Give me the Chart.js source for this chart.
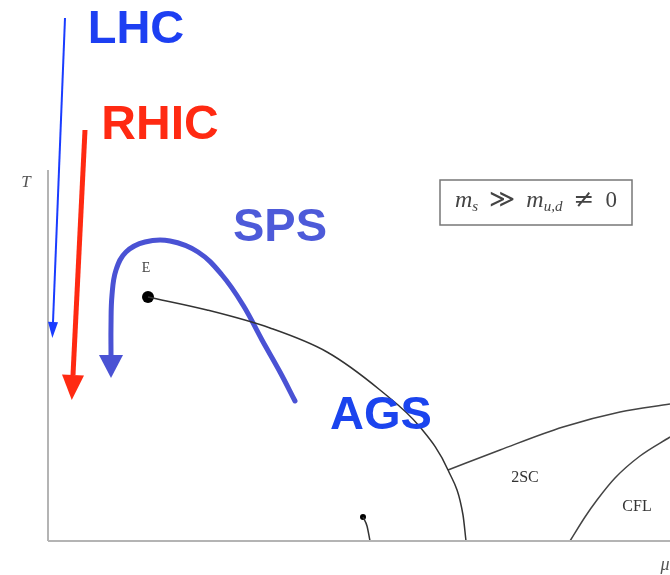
<!DOCTYPE html>
<html><head><meta charset="utf-8">
<script src="https://cdn.jsdelivr.net/npm/chart.js@4.4.1/dist/chart.umd.min.js"></script>
<style>html,body{margin:0;padding:0;background:#fff;}canvas{display:block;}</style>
</head><body>
<canvas id="c" width="670" height="575"></canvas>
<script>
// Data units: x = baryon chemical potential (arb.), y = temperature T (arb.), origin at axis corner
const axisT = [{x:0,y:371},{x:0,y:0}];
const axisMu = [{x:0,y:0},{x:622,y:0}];
const lhcPath = [{x:17,y:523},{x:5,y:219}];
const rhicPath = [{x:37,y:411},{x:25,y:166}];
const spsPath = [{x:247,y:140},{x:232,y:169},{x:214,y:201},{x:195,y:236},{x:174,y:266},{x:150,y:289},{x:122,y:300},{x:97,y:299},{x:78,y:289},{x:68,y:271},{x:64,y:246},{x:63,y:216},{x:63,y:186}];
const firstOrder = [{x:100,y:244},{x:159,y:231},{x:222,y:213},{x:279,y:189},{x:332,y:151},{x:372,y:114},{x:400,y:71},{x:415,y:26},{x:418,y:0}];
const line2SC = [{x:400,y:71},{x:452,y:91},{x:515,y:114},{x:572,y:129},{x:622,y:137}];
const lineCFL = [{x:522,y:0},{x:537,y:24},{x:549,y:41},{x:567,y:63},{x:592,y:85},{x:622,y:104}];
const liquidGas = [{x:315,y:24},{x:319,y:15},{x:322,y:0}];
const endpointE = [{x:100,y:244}];
const endpointLG = [{x:315,y:24}];
const labels = [
  {text:'LHC', x:88, y:511, font:'bold 47px "Liberation Sans", Arial, sans-serif', color:'#1d3ff2'},
  {text:'RHIC', x:112, y:415, font:'bold 48px "Liberation Sans", Arial, sans-serif', color:'#ff2a12'},
  {text:'SPS', x:232, y:313, font:'bold 47px "Liberation Sans", Arial, sans-serif', color:'#4d5ad9'},
  {text:'AGS', x:333, y:125, font:'bold 47px "Liberation Sans", Arial, sans-serif', color:'#1b44ee'},
  {text:'T', x:-22, y:358, font:'italic 17px "Liberation Serif", "DejaVu Serif", serif', color:'#555'},
  {text:'μ', x:617, y:-24, font:'italic 18px "Liberation Serif", "DejaVu Serif", serif', color:'#555'},
  {text:'E', x:98, y:273, font:'14px "Liberation Serif", "DejaVu Serif", serif', color:'#444'},
  {text:'2SC', x:477, y:63, font:'16px "Liberation Serif", "DejaVu Serif", serif', color:'#333'},
  {text:'CFL', x:589, y:34, font:'16px "Liberation Serif", "DejaVu Serif", serif', color:'#333'}
];
const box = {x0:392, x1:584, y0:316, y1:361, textX0:407, textX1:569, baseY:334};

const arrowPlugin = {
  id:'arrows',
  afterDatasetsDraw(chart){
    const ctx = chart.ctx, xs = chart.scales.x, ys = chart.scales.y;
    chart.data.datasets.forEach(ds=>{
      if(!ds.arrow) return;
      const n = ds.data.length;
      const a = ds.data[n-2], b = ds.data[n-1];
      const ax = xs.getPixelForValue(a.x), ay = ys.getPixelForValue(a.y);
      const bx = xs.getPixelForValue(b.x), by = ys.getPixelForValue(b.y);
      let dx = bx-ax, dy = by-ay; const L = Math.hypot(dx,dy); dx/=L; dy/=L;
      const px = -dy, py = dx;
      const len = ds.arrow.length, w = ds.arrow.width/2;
      ctx.save();
      ctx.fillStyle = ds.borderColor;
      ctx.beginPath();
      ctx.moveTo(bx + px*w, by + py*w);
      ctx.lineTo(bx + dx*len, by + dy*len);
      ctx.lineTo(bx - px*w, by - py*w);
      ctx.closePath();
      ctx.fill();
      ctx.restore();
    });
  }
};

const textPlugin = {
  id:'texts',
  afterDraw(chart){
    const ctx = chart.ctx, xs = chart.scales.x, ys = chart.scales.y;
    ctx.save();
    ctx.textAlign='center'; ctx.textBaseline='middle';
    labels.forEach(l=>{
      ctx.font = l.font; ctx.fillStyle = l.color;
      ctx.fillText(l.text, xs.getPixelForValue(l.x), ys.getPixelForValue(l.y));
    });
    const bx0 = xs.getPixelForValue(box.x0), bx1 = xs.getPixelForValue(box.x1);
    const by0 = ys.getPixelForValue(box.y1), by1 = ys.getPixelForValue(box.y0);
    ctx.strokeStyle = '#777'; ctx.lineWidth = 1.5;
    ctx.strokeRect(bx0, by0, bx1-bx0, by1-by0);
    const main = 'italic 24px "Liberation Serif", serif';
    const sub = 'italic 15px "Liberation Serif", serif';
    const rel = '25px "DejaVu Serif", serif';
    const groups = [
      [{t:'m', f:main, dy:0},{t:'s', f:sub, dy:4}],
      [{t:'≫', f:rel, dy:0}],
      [{t:'m', f:main, dy:0},{t:'u,d', f:sub, dy:4}],
      [{t:'≠', f:rel, dy:0}],
      [{t:'0', f:'23px "Liberation Serif", serif', dy:0}]
    ];
    let glyphs = 0;
    groups.forEach(g=>g.forEach(p=>{ctx.font=p.f; p.w=ctx.measureText(p.t).width; glyphs+=p.w;}));
    const tx0 = xs.getPixelForValue(box.textX0), tx1 = xs.getPixelForValue(box.textX1);
    const gap = (tx1 - tx0 - glyphs)/(groups.length-1);
    let cx = tx0;
    const cy = ys.getPixelForValue(box.baseY);
    ctx.textAlign='left'; ctx.textBaseline='alphabetic'; ctx.fillStyle='#444';
    groups.forEach(g=>{ g.forEach(p=>{ctx.font=p.f; ctx.fillText(p.t, cx, cy+p.dy); cx+=p.w;}); cx+=gap; });
    ctx.restore();
  }
};

function lineDs(data, color, width, interp, extra){
  const d = {data, showLine:true, borderColor:color, backgroundColor:color, borderWidth:width, pointRadius:0, fill:false};
  if(interp==='mono'){ d.cubicInterpolationMode='monotone'; }
  else { d.tension = interp; }
  return Object.assign(d, extra||{});
}

new Chart(document.getElementById('c'), {
  type:'scatter',
  data:{datasets:[
    lineDs(axisT, '#b4b4b4', 2, 0),
    lineDs(axisMu, '#b4b4b4', 2, 0),
    lineDs(firstOrder, '#333', 1.5, 'mono'),
    lineDs(line2SC, '#444', 1.5, 'mono'),
    lineDs(lineCFL, '#444', 1.5, 'mono'),
    lineDs(liquidGas, '#333', 1.5, 'mono'),
    {data:endpointE, pointRadius:6, backgroundColor:'#000', borderColor:'#000', borderWidth:0},
    {data:endpointLG, pointRadius:3, backgroundColor:'#000', borderColor:'#000', borderWidth:0},
    lineDs(lhcPath, '#1a3cff', 2, 0, {arrow:{length:16, width:10}}),
    lineDs(rhicPath, '#ff2a12', 5, 0, {arrow:{length:25, width:22}}),
    lineDs(spsPath, '#4a52d4', 5, 0.4, {arrow:{length:23, width:24}, borderCapStyle:'round'})
  ]},
  options:{
    responsive:false, animation:false,
    layout:{padding:0, autoPadding:false},
    plugins:{legend:{display:false}, tooltip:{enabled:false}},
    scales:{
      x:{type:'linear', min:-48, max:622, display:false},
      y:{type:'linear', min:-34, max:541, display:false}
    }
  },
  plugins:[arrowPlugin, textPlugin]
});
</script>
</body></html>
